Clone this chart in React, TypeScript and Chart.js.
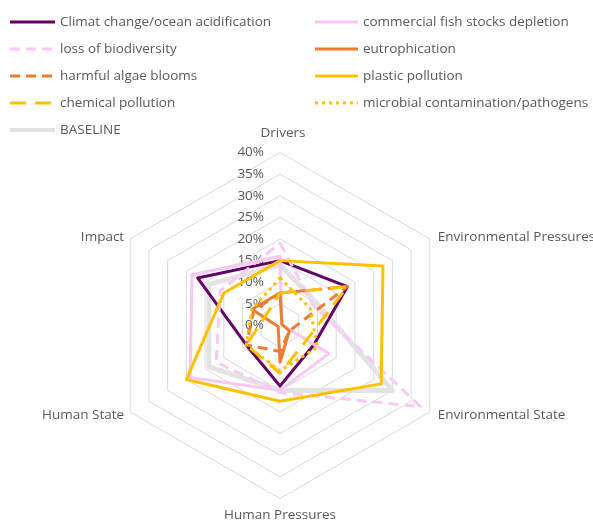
import React, { useEffect, useRef } from "react";
import { Chart, registerables } from "chart.js";

Chart.register(...registerables);

// ---------- data ----------
const axisLabels = [
  "Drivers",
  "Environmental Pressures",
  "Environmental State",
  "Human Pressures",
  "Human State",
  "Impact",
];
const tickValues = [0, 5, 10, 15, 20, 25, 30, 35, 40];

const seriesNames = [
  "Climat change/ocean acidification",
  "commercial fish stocks depletion",
  "loss of biodiversity",
  "eutrophication",
  "harmful algae blooms",
  "plastic pollution",
  "chemical pollution",
  "microbial contamination/pathogens",
  "BASELINE",
];

const climateChange = [15, 18, 9, 14, 9, 22];
const fishStocks = [16, 0.5, 13, 15, 24, 23.5];
const biodiversity = [19, 9, 37.5, 15.5, 17, 16];
const eutrophication = [7.5, 0.5, 2.5, 8.5, 0.5, 7.5];
const algaeBlooms = [7.5, 18, 2.5, 6, 9, 7];
const plastic = [15, 27.5, 27, 17.5, 25, 15];
const chemical = [7.5, 18, 7, 11, 9, 4];
const microbial = [11, 8, 10, 10.5, 9, 7.5];
const baseline = [14, 10, 30, 15, 19, 19];

const seriesValues = [
  climateChange,
  fishStocks,
  biodiversity,
  eutrophication,
  algaeBlooms,
  plastic,
  chemical,
  microbial,
  baseline,
];

// ---------- styles ----------
const seriesColors = [
  "#650066",
  "#F9C6F6",
  "#FBC8F8",
  "#ED7D31",
  "#ED7D31",
  "#FFC000",
  "#FFC000",
  "#FFC000",
  "#E4E3E3",
];
const seriesDash: number[][] = [[], [], [10, 6], [], [10, 6], [], [16, 9], [3, 4], []];
const seriesWidth = [3, 3, 3, 3, 3, 3, 3, 3, 5];

const FONT = "'Open Sans', Lato, sans-serif";
const FONT_SIZE = 13.5;
const TEXT = "#595959";
const CX = 280;
const CY = 325.5;
const RADIUS = 173;

export default function App() {
  const ref = useRef<HTMLCanvasElement | null>(null);

  useEffect(() => {
    if (!ref.current) return;

    const legendPlugin = {
      id: "customLegend",
      afterDraw(chart: any) {
        const ctx = chart.ctx as CanvasRenderingContext2D;
        ctx.save();
        ctx.font = `${FONT_SIZE}px ${FONT}`;
        ctx.fillStyle = TEXT;
        ctx.textBaseline = "middle";
        ctx.textAlign = "left";
        const rows = [22, 49, 76, 103, 130];
        seriesNames.forEach((name, i) => {
          const col = i % 2;
          const row = Math.floor(i / 2);
          const y = rows[row];
          const x0 = col === 0 ? 10 : 315;
          const x1 = col === 0 ? 55 : 358;
          ctx.beginPath();
          ctx.strokeStyle = seriesColors[i];
          ctx.lineWidth = seriesWidth[i] === 5 ? 4 : 3;
          ctx.setLineDash(seriesDash[i]);
          ctx.lineCap = "butt";
          ctx.moveTo(x0, y);
          ctx.lineTo(x1, y);
          ctx.stroke();
          ctx.setLineDash([]);
          ctx.fillText(name, col === 0 ? 60 : 363, y);
        });
        ctx.restore();
      },
    };

    const axisTextPlugin = {
      id: "axisText",
      beforeDatasetsDraw(chart: any) {
        const scale = chart.scales.r;
        const ctx = chart.ctx as CanvasRenderingContext2D;
        ctx.save();
        ctx.fillStyle = TEXT;
        ctx.font = `${FONT_SIZE}px ${FONT}`;
        ctx.textBaseline = "middle";
        ctx.textAlign = "right";
        tickValues.forEach((v) => {
          const d = scale.getDistanceFromCenterForValue(v);
          ctx.fillText(`${v}%`, scale.xCenter - 16, scale.yCenter - d);
        });
        // point labels
        const offs = [
          { dx: 3, dy: -19, align: "center" },
          { dx: 8, dy: -2, align: "left" },
          { dx: 8, dy: 3, align: "left" },
          { dx: 0, dy: 17, align: "center" },
          { dx: -6, dy: 3, align: "right" },
          { dx: -6, dy: -2, align: "right" },
        ];
        axisLabels.forEach((lab, i) => {
          const p = scale.getPointPosition(i, scale.drawingArea);
          ctx.textAlign = offs[i].align as CanvasTextAlign;
          ctx.fillText(lab, p.x + offs[i].dx, p.y + offs[i].dy);
        });
        ctx.restore();
      },
    };

    const n = seriesNames.length;
    const chart = new Chart(ref.current, {
      type: "radar",
      data: {
        labels: axisLabels,
        datasets: seriesNames.map((name, i) => ({
          label: name,
          data: seriesValues[i],
          borderColor: seriesColors[i],
          backgroundColor: "transparent",
          borderWidth: seriesWidth[i],
          borderDash: seriesDash[i],
          borderJoinStyle: "round",
          borderCapStyle: "butt",
          fill: false,
          pointRadius: 0,
          pointHoverRadius: 0,
          tension: 0,
          clip: false,
          order: i === n - 1 ? n + 5 : n - i,
        })) as any,
      },
      options: {
        responsive: false,
        animation: false,
        events: [],
        plugins: {
          legend: { display: false },
          tooltip: { enabled: false },
        },
        scales: {
          r: {
            min: 0,
            max: 40,
            ticks: { stepSize: 5, display: false },
            pointLabels: { display: false },
            angleLines: { display: false },
            grid: { color: "#D9D9D9", lineWidth: 1 },
            afterFit: (scale: any) => {
              scale.xCenter = CX;
              scale.yCenter = CY;
              scale.drawingArea = RADIUS;
            },
          } as any,
        },
      },
      plugins: [axisTextPlugin, legendPlugin],
    });

    return () => chart.destroy();
  }, []);

  return (
    <div style={{ position: "absolute", left: 0, top: 0, width: 593, height: 525, background: "#fff" }}>
      <canvas ref={ref} width={593} height={525} style={{ width: 593, height: 525, display: "block" }} />
    </div>
  );
}
